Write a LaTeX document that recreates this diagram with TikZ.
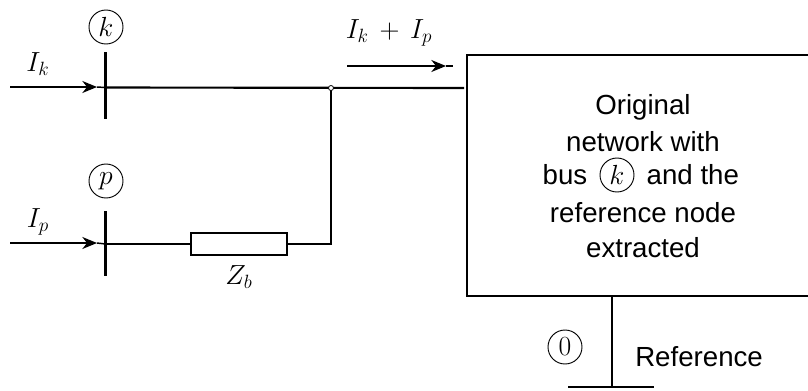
\documentclass[tikz,border=0pt]{standalone}
\usepackage{fontspec}
\setsansfont{Liberation Sans}
\usetikzlibrary{arrows.meta,positioning,calc}

\begin{document}
\begin{tikzpicture}[
  x=0.75pt, y=-0.75pt,
  >={Stealth[length=11pt,width=9pt,inset=3.5pt]},
  wire/.style={line width=1.6pt},
  thinwire/.style={line width=1.1pt},
  busbar/.style={line width=1.9pt},
  busmark/.style={draw, circle, minimum size=25.5pt, inner sep=0pt, line width=0.7pt, font=\huge},
  cur/.style={font=\huge},
  boxtext/.style={font=\sffamily\huge, align=center, inner sep=0pt},
]
\useasboundingbox (0,0) rectangle (808,390);

% Bus k and its injected current
\coordinate (kTop) at (105.5,52);
\coordinate (kBot) at (105.5,119);
\coordinate (kBus) at (105.5,87.5);
\coordinate (kIn) at (10,87);
\coordinate (kTip) at (97,87);
\draw[busbar] (kTop) -- (kBot);
\draw[thinwire,->] (kIn) -- (kTip);
\draw[thinwire] (kTip) -- (kBus);
\node[busmark] (kMark) at (106,27) {$k$};
\node[cur] (Ik) at (38,64) {$I_k$};

% Bus p and the branch
\coordinate (pTop) at (105.5,211);
\coordinate (pBot) at (105.5,276);
\coordinate (pBus) at (105.5,244);
\coordinate (pIn) at (10,243);
\coordinate (pTip) at (97,243);
\draw[busbar] (pTop) -- (pBot);
\draw[thinwire,->] (pIn) -- (pTip);
\draw[thinwire] (pTip) -- (pBus);
\node[busmark] (pMark) at (106,181) {$p$};
\node[cur] (Ip) at (38,222) {$I_p$};

\node[draw, line width=1.3pt, minimum width=72pt, minimum height=16.5pt, inner sep=0pt] (Zb) at (239,244) {};
\node[cur, below=4pt of Zb] (ZbLabel) {$Z_b$};
\coordinate (Corner) at (331,244);
\coordinate (Joint) at (331,88);

% Original network
\coordinate (boxNW) at (467,55);
\coordinate (boxSW) at (467,296);
\coordinate (boxNE) at (808,55);
\coordinate (boxSE) at (808,296);
\coordinate (boxIn) at (464,88);
\draw[wire] (boxNE) -- (boxNW) -- (boxSW) -- (boxSE);

\draw[wire] (kBus) -- (boxIn);
\draw[thinwire] (pBus) -- (Zb);
\draw[wire] (Zb) -- (Corner) -- (Joint);
\draw[line width=0.6pt, fill=white] (Joint) circle (2.5);

% Total current
\coordinate (sumFrom) at (347,66);
\coordinate (sumTip) at (446,66);
\coordinate (sumTo) at (453,66);
\draw[thinwire,->] (sumFrom) -- (sumTip);
\draw[thinwire] (sumTip) -- (sumTo);
\node[cur] (Isum) at (389,33) {$I_k\,+\,I_p$};

\node[boxtext] (Orig) at (643,107) {Original};
\node[boxtext] (Net) at (643,142) {network with};
\node[busmark] (kInner) at (617,175) {$k$};
\node[boxtext, left=9pt of kInner] (Bus) {bus};
\node[boxtext, right=9pt of kInner] (AndThe) {and the};
\node[boxtext] (Ref) at (643,213) {reference node};
\node[boxtext] (Ext) at (643,248) {extracted};

% Reference node
\coordinate (stemTop) at (612,296);
\coordinate (stemBot) at (612,388);
\coordinate (gndL) at (568,387);
\coordinate (gndR) at (654,387);
\draw[thinwire] (stemTop) -- (stemBot);
\draw[wire] (gndL) -- (gndR);
\node[busmark] (zero) at (565,347) {$0$};
\node[boxtext, anchor=west] (RefLabel) at (635,357) {Reference};
\end{tikzpicture}
\end{document}
